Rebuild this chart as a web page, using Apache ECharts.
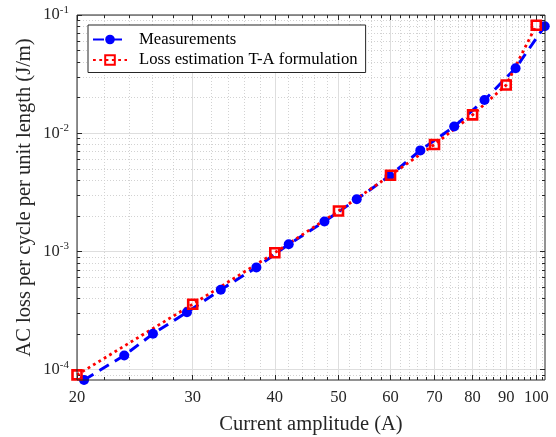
<!DOCTYPE html>
<html lang="en">
<head>
  <meta charset="UTF-8">
  <title>AC loss per cycle vs current amplitude</title>
  <script src="https://cdn.jsdelivr.net/npm/echarts@6/dist/echarts.min.js"></script>
  <style>
    html, body { margin: 0; padding: 0; background: #fff; }
    #chart { width: 556px; height: 437px; }
  </style>
</head>
<body>
  <div id="chart"></div>
  <script>
    // measured AC loss per cycle (J/m) vs current amplitude (A)
    const measCurrent = [20.5, 23.6, 26.1, 29.4, 33.1, 37.5, 42.0, 47.6, 53.3, 59.8, 66.6, 75.0, 83.4, 93.0, 103.0];
    const measLoss = [8.19e-5, 1.32e-4, 2.01e-4, 3.06e-4, 4.75e-4, 7.33e-4, 1.15e-3, 1.79e-3, 2.76e-3, 4.35e-3, 7.16e-3, 1.14e-2, 1.91e-2, 3.55e-2, 8.02e-2];
    // T-A formulation estimate
    const taCurrent = [20, 30, 40, 50, 60, 70, 80, 90, 100];
    const taLoss = [9.03e-5, 3.58e-4, 9.75e-4, 2.20e-3, 4.41e-3, 8.04e-3, 1.43e-2, 2.56e-2, 8.2e-2];

    // axis ranges and ticks (log scale)
    const xMin = 20, xMax = 103.1;
    const yMin = 8.18e-5, yMax = 0.1;
    const xMajorTicks = [20, 30, 40, 50, 60, 70, 80, 90, 100];
    const yMajorTicks = [1e-4, 1e-3, 1e-2, 1e-1];
    const xMinorTicks = [];
    for (let v = 22; v <= 102; v += 2) if (v % 10) xMinorTicks.push(v);
    const yMinorTicks = [];
    for (let e = -5; e <= -2; e++) for (let k = 2; k <= 9; k++) yMinorTicks.push(k * Math.pow(10, e));

    const lg = Math.log10;
    const axisColor = '#262626';
    const font = "'Liberation Serif', 'Times New Roman', serif";

    // helper for the plain tick-only axes (top/right box and minor grid)
    function tickAxis(pos, min, max, ticks, len, grid) {
      return {
        type: 'value', position: pos, min: min, max: max,
        axisLine: { show: false },
        axisLabel: { show: false },
        axisTick: { show: true, inside: true, length: len, customValues: ticks.map(lg), lineStyle: { color: axisColor, width: 1 } },
        splitLine: grid ? { show: true, lineStyle: { color: '#d2d2d2', width: 1, type: [1, 2] } } : { show: false }
      };
    }

    const chart = echarts.init(document.getElementById('chart'));
    chart.setOption({
      animation: false,
      backgroundColor: '#fff',
      grid: {
        left: 77, right: 11, top: 15, bottom: 57,
        containLabel: false, outerBoundsMode: 'none',
        show: true, z: 10, backgroundColor: 'transparent', borderColor: axisColor, borderWidth: 1
      },
      legend: {
        orient: 'vertical', left: 88, top: 25,
        itemWidth: 34, itemHeight: 12, itemGap: 3.5,
        padding: [6, 8, 4, 4],
        borderColor: axisColor, borderWidth: 1, backgroundColor: '#fff',
        textStyle: { fontFamily: font, fontSize: 16.7, color: '#000', padding: [0, 0, 0, 7] },
        data: ['Measurements', 'Loss estimation T-A formulation']
      },
      xAxis: [
        {
          type: 'value', position: 'bottom', min: lg(xMin), max: lg(xMax),
          axisLine: { show: false },
          axisTick: { show: true, inside: true, length: 5, customValues: xMajorTicks.map(lg), lineStyle: { color: axisColor } },
          axisLabel: {
            show: true, customValues: xMajorTicks.map(lg), margin: 9,
            formatter: v => String(Math.round(Math.pow(10, v))),
            color: axisColor, fontFamily: font, fontSize: 16.5
          },
          splitLine: { show: true, lineStyle: { color: '#dedede', width: 1 } },
          name: 'Current amplitude (A)', nameLocation: 'middle', nameGap: 34, nameMoveOverlap: false,
          nameTextStyle: { fontFamily: font, fontSize: 20.5, color: axisColor }
        },
        tickAxis('bottom', lg(xMin), lg(xMax), xMinorTicks, 3, true),
        tickAxis('top', lg(xMin), lg(xMax), xMajorTicks, 5, false),
        tickAxis('top', lg(xMin), lg(xMax), xMinorTicks, 3, false)
      ],
      yAxis: [
        {
          type: 'value', position: 'left', min: lg(yMin), max: lg(yMax),
          axisLine: { show: false },
          axisTick: { show: true, inside: true, length: 5, customValues: yMajorTicks.map(lg), lineStyle: { color: axisColor } },
          axisLabel: {
            show: true, customValues: yMajorTicks.map(lg), margin: 8,
            formatter: v => '{b|10}{s|' + Math.round(v) + '}',
            rich: {
              b: { fontFamily: font, fontSize: 16.5, color: axisColor },
              s: { fontFamily: font, fontSize: 11, color: axisColor, padding: [0, 0, 10, 0] }
            }
          },
          splitLine: { show: true, lineStyle: { color: '#dedede', width: 1 } },
          name: 'AC loss per cycle per unit length (J/m)', nameLocation: 'middle', nameGap: 42, nameMoveOverlap: false,
          nameTextStyle: { fontFamily: font, fontSize: 20.5, color: axisColor }
        },
        tickAxis('left', lg(yMin), lg(yMax), yMinorTicks, 3, true),
        tickAxis('right', lg(yMin), lg(yMax), yMajorTicks, 5, false),
        tickAxis('right', lg(yMin), lg(yMax), yMinorTicks, 3, false)
      ],
      series: [
        {
          name: 'Measurements', type: 'line', xAxisIndex: 0, yAxisIndex: 0,
          data: measCurrent.map((c, i) => [lg(c), lg(measLoss[i])]),
          symbol: 'circle', symbolSize: 10,
          lineStyle: { color: '#0000ff', width: 3, type: [11, 7] },
          itemStyle: { color: '#0000ff' },
          emphasis: { disabled: true }
        },
        {
          name: 'Loss estimation T-A formulation', type: 'line', xAxisIndex: 0, yAxisIndex: 0,
          data: taCurrent.map((c, i) => [lg(c), lg(taLoss[i])]),
          symbol: 'rect', symbolSize: 9,
          lineStyle: { color: '#ff0000', width: 2.8, type: [2.8, 3.5] },
          itemStyle: { color: 'transparent', borderColor: '#ff0000', borderWidth: 2.6 },
          emphasis: { disabled: true }
        }
      ]
    });
  </script>
</body>
</html>
